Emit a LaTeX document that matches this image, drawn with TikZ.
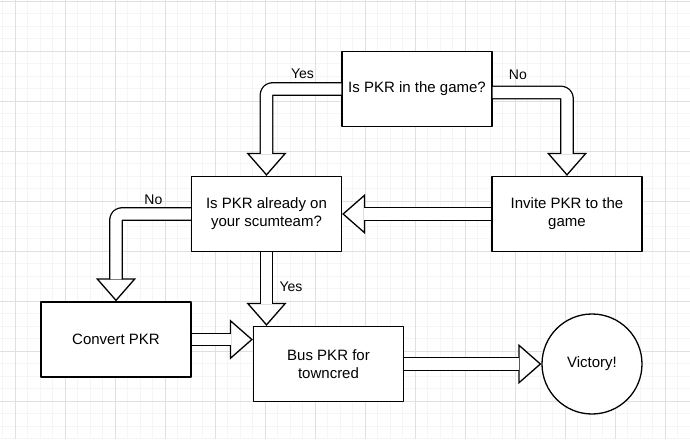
\documentclass[tikz,border=0pt]{standalone}
\usepackage{fontspec}
\setmainfont{Liberation Sans}
\usetikzlibrary{arrows.meta}
\begin{document}
\begin{tikzpicture}[x=1pt,y=-1pt,line join=round,font=\fontsize{15}{18}\selectfont]
	\tikzset{box/.style={draw,line width=1.3pt,fill=white,minimum width=150pt,minimum height=75pt,inner sep=0pt,align=center},
		fat/.style={line width=1.3pt,rounded corners=6pt,-{Triangle[fill=white,length=23pt,width=40pt]},
			postaction={draw,arrows=-,double=white,double distance=11.2pt,shorten >=22pt}},
		lbl/.style={font=\fontsize{14}{16}\selectfont}}
	\useasboundingbox (0,0) rectangle (690,439);
	\fill[white] (0,0) rectangle (690,439);
	% grid
	\foreach \gx in {2.5,15,...,690} \draw[black!4,line width=.8pt] (\gx,0)--(\gx,439);
	\foreach \gy in {1,13.5,...,439} \draw[black!4,line width=.8pt] (0,\gy)--(690,\gy);
	\foreach \gx in {15,65,...,665} \draw[black!12,line width=.8pt] (\gx,0)--(\gx,439);
	\foreach \gy in {1,51,...,401} \draw[black!12,line width=.8pt] (0,\gy)--(690,\gy);
	% boxes
	\node[box] (game) at (417,89) {Is PKR in the game?};
	\node[box] (scum) at (266.5,214) {Is PKR already on\\your scumteam?};
	\node[box] (invite) at (567,214) {Invite PKR to the\\game};
	\node[box] (convert) at (116,339.5) {Convert PKR};
	\node[box] (bus) at (328.5,364) {Bus PKR for\\towncred};
	\node[draw,line width=1.3pt,fill=white,circle,minimum size=100pt,inner sep=0pt] (win) at (592,364) {Victory!};
	% arrows
	\draw[fat] (game.west) -| node[lbl,pos=.26,yshift=15pt]{Yes} (scum.north);
	\draw[fat] ([yshift=-3.5pt]game.east) -| node[lbl,pos=.17,yshift=18pt]{No} (invite.north);
	\draw[fat] (invite) -- (scum);
	\draw[fat] (scum.west) -| node[lbl,pos=.25,yshift=14pt]{No} (convert.north);
	\draw[fat] (scum.south) -- node[lbl,pos=.47,xshift=24.5pt]{Yes} (scum.south |- bus.north);
	\draw[fat] (convert.east) -- (convert.east -| bus.west);
	\draw[fat] (bus) -- (win);
\end{tikzpicture}
\end{document}
